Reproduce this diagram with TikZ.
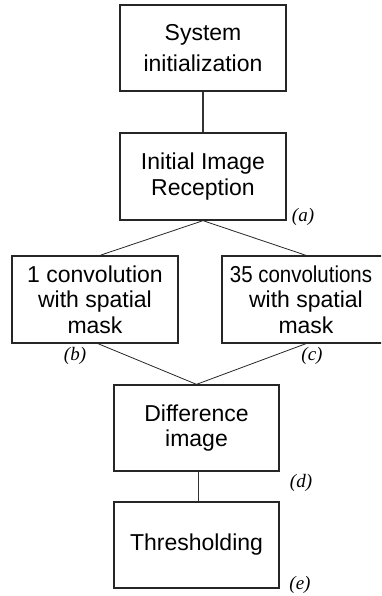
\documentclass[tikz,border=0pt]{standalone}
\usepackage{fontspec}
\setmainfont{Liberation Sans}
\newfontfamily\lblfont{Liberation Serif}
\usetikzlibrary{calc}
\begin{document}
\begin{tikzpicture}[x=1pt,y=-1pt,
  box/.style={draw=black!85, line width=1.3pt, rectangle, inner sep=0pt,
    minimum width=166pt, minimum height=87pt, align=center,
    font=\fontsize{23}{25.5}\selectfont},
  vline/.style={draw=black!80, line width=1.3pt},
  dline/.style={draw=black!85, line width=0.8pt},
  tag/.style={font=\lblfont\itshape\fontsize{19}{19}\selectfont, inner sep=0pt}]
\useasboundingbox (0,0) rectangle (381,596);
\clip (0,0) rectangle (381,596);
\node[box, minimum height=86pt, font=\fontsize{23}{31}\selectfont] (sys) at (203,48) {System\\initialization};
\node[box] (rec) at (203,176.5) {Initial Image\\Reception};
\node[box] (one) at (95,299.5) {1 convolution\\with spatial\\mask};
\node[box, minimum width=168pt] (many) at (306,299.5) {\scalebox{0.89}[1]{35 convolutions}\hspace*{10pt}\\with spatial\\mask};
\node[box, minimum width=165pt, minimum height=86pt] (diff) at (196.5,428) {Difference\\image};
\node[box, minimum width=165pt, minimum height=86pt] (thr) at (196.5,545) {Thresholding};
\node[tag] (la) at (303,217) {(a)};
\node[tag] (lb) at (75,356) {(b)};
\node[tag] (lc) at (312,356) {(c)};
\node[tag] (ld) at (301,483) {(d)};
\node[tag] (le) at (300,585) {(e)};
\draw[vline] (sys.south) -- (rec.north);
\draw[dline] (rec.south) -- ($(one.north)+(5,0)$);
\draw[dline] (rec.south) -- (many.north);
\draw[dline] ($(one.south)+(3,0)$) -- (diff.north);
\draw[dline] (many.south) -- (diff.north);
\draw[vline] ($(diff.south)+(2,0)$) -- ($(thr.north)+(2,0)$);
\end{tikzpicture}
\end{document}
